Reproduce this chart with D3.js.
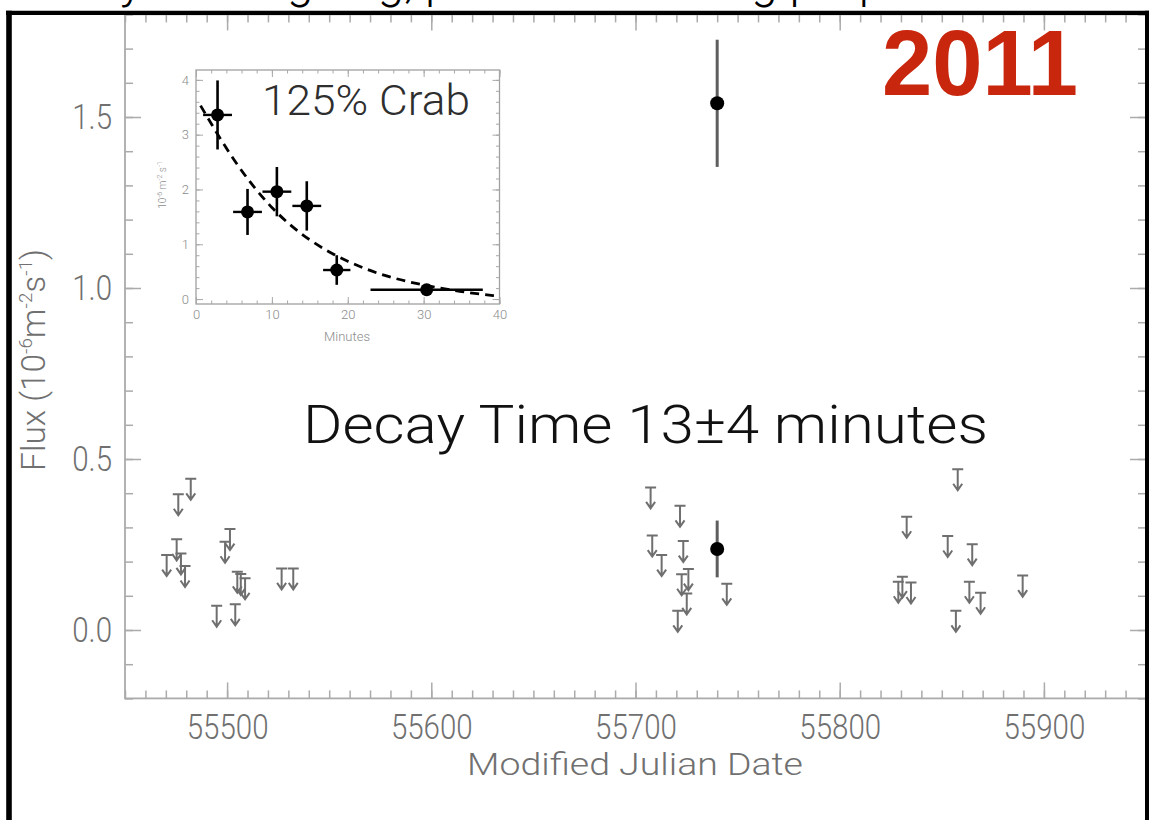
<!DOCTYPE html>
<html><head><meta charset="utf-8">
<script src="https://cdn.jsdelivr.net/npm/d3@7"></script>
<style>
html,body{margin:0;padding:0;background:#fff;}
svg{display:block;}
</style></head><body>
<svg id="chart" width="1149" height="820"></svg>
<script>
// ---- Light curve: flux upper limits (MJD, 10^-6 m^-2 s^-1) ----
const ulMJD = [55482.2, 55476.1, 55475.3, 55470.4, 55477.4, 55479.4, 55501.4, 55499.0,
               55505.0, 55506.7, 55508.8, 55494.9, 55504.0, 55526.7, 55532.4,
               55707.4, 55721.8, 55708.2, 55723.4, 55712.8, 55725.9, 55722.6, 55725.1,
               55720.7, 55744.7,
               55857.8, 55832.8, 55852.9, 55864.9, 55830.7, 55828.7, 55834.9, 55863.5,
               55869.0, 55889.6, 55856.9];
const ulFlux = [0.442, 0.397, 0.265, 0.219, 0.224, 0.187, 0.295, 0.258,
                0.170, 0.164, 0.151, 0.071, 0.075, 0.180, 0.180,
                0.417, 0.363, 0.276, 0.260, 0.219, 0.178, 0.163, 0.107,
                0.056, 0.135,
                0.470, 0.331, 0.275, 0.251, 0.156, 0.141, 0.139, 0.141,
                0.109, 0.159, 0.056];

// ---- Light curve: detections ----
const detMJD  = [55740, 55740];
const detFlux = [1.540, 0.237];
const detErr  = [0.186, 0.083];

const xTickValues = [55500, 55600, 55700, 55800, 55900];
const yTickValues = [0.0, 0.5, 1.0, 1.5];

// ---- Inset: flare decay ----
const insetMin     = [2.84, 6.79, 10.66, 14.6, 18.55, 30.4];
const insetMinErr  = [1.9, 1.9, 1.9, 1.9, 1.8, 7.4];
const insetFlux    = [3.36, 1.59, 1.96, 1.70, 0.53, 0.17];
const insetFluxErr = [0.63, 0.42, 0.45, 0.45, 0.27, 0.0];
// exponential fit, sampled
const fitMin  = [0.6, 5, 10, 15, 20, 25, 30, 35, 40];
const fitFlux = [3.53, 2.50, 1.62, 1.05, 0.67, 0.41, 0.25, 0.13, 0.05];

const insetXTicks = [0, 10, 20, 30, 40];
const insetYTicks = [0, 1, 2, 3, 4];

const svg = d3.select("#chart");
const FONT = "Roboto, 'Open Sans', 'DejaVu Sans', sans-serif";
const axisGray = "#ababab";
const labelGray = "#707070";

// horizontal scale factor that brings a text element to a target width
function fitWidth(text, target) {
  const w = text.node().getComputedTextLength();
  return target / w;
}

// ---- Heading line (mostly hidden above the frame) ----
const headTxt = "Days of ongoing, persistent flaring properties";
const head = svg.append("text")
  .attr("x", 0).attr("y", -3)
  .attr("font-family", FONT).attr("font-weight", 300)
  .attr("font-size", 48).attr("fill", "#000")
  .text(headTxt);
{
  const n = head.node();
  const iy = headTxt.indexOf("y");
  const c = n.getExtentOfChar(iy);
  head.attr("x", 131.5 - (c.x + c.width / 2));
}

// ---- Scales ----
const x = d3.scaleLinear().domain([55450, 55950]).range([125, 1146]);
const y = d3.scaleLinear().domain([-0.2, 1.8]).range([698.4, 14.4]);

const plot = svg.append("g");

// plot box
plot.append("rect")
  .attr("x", x(55450)).attr("y", y(1.8))
  .attr("width", x(55950) - x(55450)).attr("height", y(-0.2) - y(1.8))
  .attr("fill", "none").attr("stroke", axisGray).attr("stroke-width", 1.8);

function clean(g) {
  g.select(".domain").remove();
  g.selectAll("line").attr("stroke", axisGray).attr("stroke-width", 1.5);
}

const xMinor = d3.range(55450, 55951, 10);
const yMinor = d3.range(-2, 19).map(d => d / 10);

// minor ticks
plot.append("g").attr("transform", `translate(0,${y(-0.2)})`)
  .call(d3.axisBottom(x).tickValues(xMinor).tickSize(-8).tickFormat("")).call(clean);
plot.append("g").attr("transform", `translate(0,${y(1.8)})`)
  .call(d3.axisTop(x).tickValues(xMinor).tickSize(-8).tickFormat("")).call(clean);
plot.append("g").attr("transform", `translate(${x(55450)},0)`)
  .call(d3.axisLeft(y).tickValues(yMinor).tickSize(-8).tickFormat("")).call(clean);
plot.append("g").attr("transform", `translate(${x(55950)},0)`)
  .call(d3.axisRight(y).tickValues(yMinor).tickSize(-8).tickFormat("")).call(clean);

// major ticks with labels
const sx = 0.82;
const gx = plot.append("g").attr("transform", `translate(0,${y(-0.2)})`)
  .call(d3.axisBottom(x).tickValues(xTickValues).tickSize(-16).tickPadding(15).tickFormat(d3.format("d")))
  .call(clean);
plot.append("g").attr("transform", `translate(0,${y(1.8)})`)
  .call(d3.axisTop(x).tickValues(xTickValues).tickSize(-16).tickFormat("")).call(clean);
const gy = plot.append("g").attr("transform", `translate(${x(55450)},0)`)
  .call(d3.axisLeft(y).tickValues(yTickValues).tickSize(-16).tickPadding(13).tickFormat(d3.format(".1f")))
  .call(clean);
plot.append("g").attr("transform", `translate(${x(55950)},0)`)
  .call(d3.axisRight(y).tickValues(yTickValues).tickSize(-16).tickFormat("")).call(clean);

[gx, gy].forEach(g => g.selectAll("text")
  .attr("font-family", FONT).attr("font-weight", 300)
  .attr("font-size", 36).attr("fill", labelGray)
  .attr("transform", `scale(${sx},1)`));
gy.selectAll("text").attr("x", -13 / sx);

// axis titles
const xt = plot.append("text")
  .attr("text-anchor", "middle").attr("font-family", FONT).attr("font-weight", 300)
  .attr("font-size", 31).attr("fill", labelGray)
  .text("Modified Julian Date");
xt.attr("transform", `translate(635,775) scale(${fitWidth(xt, 336)},1)`);

const yt = plot.append("text")
  .attr("text-anchor", "middle").attr("font-family", FONT).attr("font-weight", 300)
  .attr("font-size", 34).attr("fill", labelGray);
yt.append("tspan").text("Flux (10");
yt.append("tspan").attr("font-size", 19).attr("dy", -13).text("-6");
yt.append("tspan").attr("dy", 13).text("m");
yt.append("tspan").attr("font-size", 19).attr("dy", -13).text("-2");
yt.append("tspan").attr("dy", 13).text("s");
yt.append("tspan").attr("font-size", 19).attr("dy", -13).text("-1");
yt.append("tspan").attr("dy", 13).text(")");
{
  const w = yt.node().getBBox().width;
  yt.attr("transform", `translate(45,360) rotate(-90) scale(${222 / w},1)`);
}

// upper limits
const ulData = ulMJD.map((m, i) => ({ m, f: ulFlux[i] }));
plot.append("g").selectAll("path").data(ulData).join("path")
  .attr("transform", d => `translate(${x(d.m)},${y(d.f)})`)
  .attr("d", "M-5.5,0H5.5M0,0V21M-4.5,14.5L0,21L4.5,14.5")
  .attr("fill", "none").attr("stroke", "#6f6f6f").attr("stroke-width", 2);

// detections
const detData = detMJD.map((m, i) => ({ m, f: detFlux[i], e: detErr[i] }));
const dg = plot.append("g");
dg.selectAll("line").data(detData).join("line")
  .attr("x1", d => x(d.m)).attr("x2", d => x(d.m))
  .attr("y1", d => y(d.f - d.e)).attr("y2", d => y(d.f + d.e))
  .attr("stroke", "#5e5e5e").attr("stroke-width", 3);
dg.selectAll("circle").data(detData).join("circle")
  .attr("cx", d => x(d.m)).attr("cy", d => y(d.f)).attr("r", 7)
  .attr("fill", "#000");

// ---- Inset ----
const ix = d3.scaleLinear().domain([0, 40]).range([196, 499.5]);
const iy = d3.scaleLinear().domain([-0.09, 4.18]).range([304, 70]);
const inset = svg.append("g");
inset.append("rect")
  .attr("x", ix(0)).attr("y", iy(4.18))
  .attr("width", ix(40) - ix(0)).attr("height", iy(-0.09) - iy(4.18))
  .attr("fill", "#fff").attr("stroke", "#a0a0a0").attr("stroke-width", 1.3);

function cleanI(g) {
  g.select(".domain").remove();
  g.selectAll("line").attr("stroke", "#a8a8a8").attr("stroke-width", 1);
}
const ixMinor = d3.range(0, 41, 2);
const iyMinor = d3.range(0, 42, 2).map(d => d / 10);
inset.append("g").attr("transform", `translate(0,${iy(-0.09)})`)
  .call(d3.axisBottom(ix).tickValues(ixMinor).tickSize(-3.5).tickFormat("")).call(cleanI);
inset.append("g").attr("transform", `translate(0,${iy(4.18)})`)
  .call(d3.axisTop(ix).tickValues(ixMinor).tickSize(-3.5).tickFormat("")).call(cleanI);
inset.append("g").attr("transform", `translate(${ix(0)},0)`)
  .call(d3.axisLeft(iy).tickValues(iyMinor).tickSize(-3.5).tickFormat("")).call(cleanI);
inset.append("g").attr("transform", `translate(${ix(40)},0)`)
  .call(d3.axisRight(iy).tickValues(iyMinor).tickSize(-3.5).tickFormat("")).call(cleanI);

const igx = inset.append("g").attr("transform", `translate(0,${iy(-0.09)})`)
  .call(d3.axisBottom(ix).tickValues(insetXTicks).tickSize(-7).tickPadding(6).tickFormat(d3.format("d")))
  .call(cleanI);
inset.append("g").attr("transform", `translate(0,${iy(4.18)})`)
  .call(d3.axisTop(ix).tickValues(insetXTicks).tickSize(-7).tickFormat("")).call(cleanI);
const igy = inset.append("g").attr("transform", `translate(${ix(0)},0)`)
  .call(d3.axisLeft(iy).tickValues(insetYTicks).tickSize(-7).tickPadding(7).tickFormat(d3.format("d")))
  .call(cleanI);
inset.append("g").attr("transform", `translate(${ix(40)},0)`)
  .call(d3.axisRight(iy).tickValues(insetYTicks).tickSize(-7).tickFormat("")).call(cleanI);
[igx, igy].forEach(g => g.selectAll("text")
  .attr("font-family", FONT).attr("font-weight", 300)
  .attr("font-size", 13).attr("fill", "#8c8c8c"));

inset.append("text")
  .attr("x", 347).attr("y", 341).attr("text-anchor", "middle")
  .attr("font-family", FONT).attr("font-weight", 300)
  .attr("font-size", 13).attr("fill", "#8c8c8c").text("Minutes");

const iyt = inset.append("text")
  .attr("text-anchor", "middle").attr("font-family", FONT).attr("font-weight", 300)
  .attr("font-size", 10).attr("fill", "#8c8c8c")
  .attr("transform", "translate(166,185) rotate(-90)");
iyt.append("tspan").text("10");
iyt.append("tspan").attr("font-size", 7).attr("dy", -4).text("-6");
iyt.append("tspan").attr("dy", 4).text(" m");
iyt.append("tspan").attr("font-size", 7).attr("dy", -4).text("-2");
iyt.append("tspan").attr("dy", 4).text(" s");
iyt.append("tspan").attr("font-size", 7).attr("dy", -4).text("-1");

// fit curve
const fitLine = d3.line().x(d => ix(d[0])).y(d => iy(d[1])).curve(d3.curveBasis);
inset.append("path")
  .attr("d", fitLine(fitMin.map((m, i) => [m, fitFlux[i]])))
  .attr("fill", "none").attr("stroke", "#000").attr("stroke-width", 2.8)
  .attr("stroke-dasharray", "9,6");

// decay points
const ipts = insetMin.map((m, i) => ({ m, me: insetMinErr[i], f: insetFlux[i], fe: insetFluxErr[i] }));
const ipg = inset.append("g");
ipg.selectAll("line.h").data(ipts).join("line").attr("class", "h")
  .attr("x1", d => ix(d.m - d.me)).attr("x2", d => ix(d.m + d.me))
  .attr("y1", d => iy(d.f)).attr("y2", d => iy(d.f))
  .attr("stroke", "#000").attr("stroke-width", 2.4);
ipg.selectAll("line.v").data(ipts.filter(d => d.fe > 0)).join("line").attr("class", "v")
  .attr("x1", d => ix(d.m)).attr("x2", d => ix(d.m))
  .attr("y1", d => iy(d.f - d.fe)).attr("y2", d => iy(d.f + d.fe))
  .attr("stroke", "#000").attr("stroke-width", 2.6);
ipg.selectAll("circle").data(ipts).join("circle")
  .attr("cx", d => ix(d.m)).attr("cy", d => iy(d.f)).attr("r", 6.5)
  .attr("fill", "#000");

const crab = inset.append("text")
  .attr("font-family", FONT).attr("font-weight", 300)
  .attr("font-size", 43).attr("fill", "#2e2e2e").text("125% Crab");
crab.attr("transform", `translate(262,115) scale(${fitWidth(crab, 208)},1)`);

// ---- Annotations ----
const decay = svg.append("text")
  .attr("font-family", FONT).attr("font-weight", 300)
  .attr("font-size", 54).attr("fill", "#111").text("Decay Time 13\u00B14 minutes");
decay.attr("transform", `translate(303,443) scale(${fitWidth(decay, 685)},1)`);

const year = svg.append("text")
  .attr("font-family", "'Liberation Sans', Arial, sans-serif").attr("font-weight", 700)
  .attr("font-size", 92).attr("fill", "#c9260e").attr("text-anchor", "middle").text("2011");
year.attr("transform", `translate(980,95) scale(${fitWidth(year, 196)},1)`);

// ---- Slide frame ----
const frame = svg.append("g").attr("stroke", "#000").attr("fill", "none");
frame.append("line").attr("x1", 9).attr("x2", 9).attr("y1", 10.7).attr("y2", 820).attr("stroke-width", 5.6);
frame.append("line").attr("x1", 6).attr("x2", 1149).attr("y1", 12.9).attr("y2", 12.9).attr("stroke-width", 4.3);
frame.append("line").attr("x1", 1147).attr("x2", 1147).attr("y1", 10.7).attr("y2", 820).attr("stroke-width", 4);
</script>
</body></html>
